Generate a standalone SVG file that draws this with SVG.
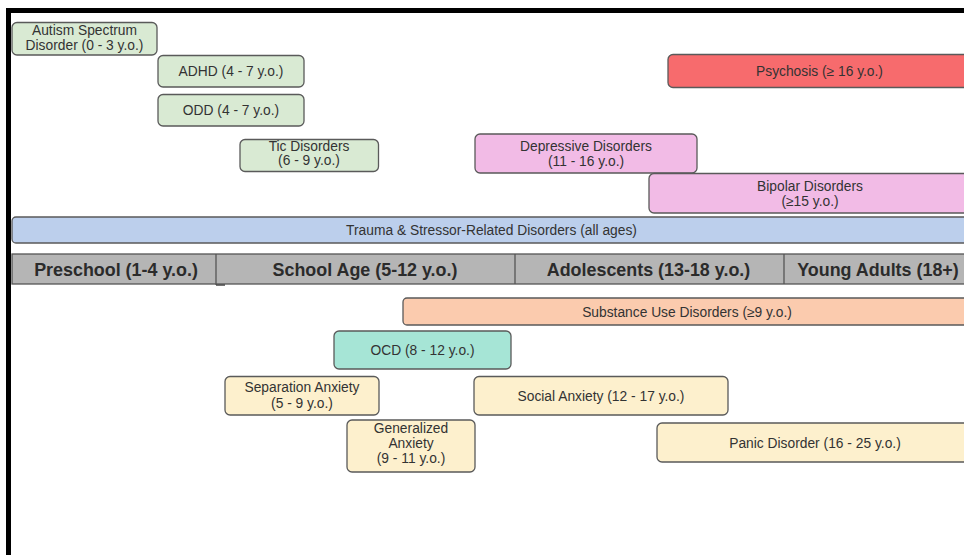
<svg xmlns="http://www.w3.org/2000/svg" width="964" height="555" viewBox="0 0 964 555">
<style>
  .box{stroke:#5a5a5a;stroke-width:1.3}
  .t{font-family:"Liberation Sans",Arial,sans-serif;font-size:13.8px;fill:#333;text-anchor:middle}
  .h{font-family:"Liberation Sans",Arial,sans-serif;font-size:17.9px;font-weight:bold;fill:#2b2b2b;text-anchor:middle}
  .green{fill:#d9ead3}
  .red{fill:#f76b6d}
  .pink{fill:#f2bbe6}
  .blue{fill:#bccfec}
  .orange{fill:#fbcbae}
  .teal{fill:#a6e5d6}
  .yellow{fill:#fdf0cd}
  .hdr{fill:#b5b5b5;stroke:#555;stroke-width:1.3}
</style>
<rect x="0" y="0" width="964" height="555" fill="#ffffff"/>
<g id="frame">
  <rect x="6" y="8" width="958" height="5" fill="#000"/>
  <rect x="6" y="8" width="5" height="547" fill="#000"/>
</g>
<g id="connectors"/>
<g id="autism">
  <rect class="box green" x="12" y="22.5" width="145" height="32.5" rx="5"/>
  <text class="t" x="84.5" y="35">Autism Spectrum</text>
  <text class="t" x="84.5" y="49.5">Disorder (0 - 3 y.o.)</text>
</g>
<g id="adhd">
  <rect class="box green" x="158" y="55.5" width="146" height="31.5" rx="5"/>
  <text class="t" x="231" y="76">ADHD (4 - 7 y.o.)</text>
</g>
<g id="odd">
  <rect class="box green" x="158" y="94.5" width="146" height="31.5" rx="5"/>
  <text class="t" x="231" y="115">ODD (4 - 7 y.o.)</text>
</g>
<g id="tic">
  <rect class="box green" x="240" y="139.5" width="138.5" height="32" rx="5"/>
  <text class="t" x="309" y="150.5">Tic Disorders</text>
  <text class="t" x="309" y="165">(6 - 9 y.o.)</text>
</g>
<g id="psychosis">
  <rect class="box red" x="668" y="54.5" width="305" height="33" rx="5"/>
  <text class="t" x="819.5" y="76">Psychosis (≥ 16 y.o.)</text>
</g>
<g id="depressive">
  <rect class="box pink" x="475" y="134" width="222" height="39" rx="5"/>
  <text class="t" x="586" y="150.5">Depressive Disorders</text>
  <text class="t" x="586" y="165.5">(11 - 16 y.o.)</text>
</g>
<g id="bipolar">
  <rect class="box pink" x="649" y="173.5" width="324" height="39.5" rx="5"/>
  <text class="t" x="810" y="190.5">Bipolar Disorders</text>
  <text class="t" x="810" y="205.5">(≥15 y.o.)</text>
</g>
<g id="trauma">
  <rect class="box blue" x="12" y="217" width="961" height="26" rx="4"/>
  <text class="t" x="491.5" y="235">Trauma &amp; Stressor-Related Disorders (all ages)</text>
</g>
<g id="age-bar">
  <rect class="hdr" x="12" y="254" width="962" height="30"/>
  <line x1="216" y1="254" x2="216" y2="285" stroke="#555" stroke-width="1.3"/>
  <line x1="515" y1="254" x2="515" y2="284" stroke="#555" stroke-width="1.3"/>
  <line x1="784" y1="254" x2="784" y2="284" stroke="#555" stroke-width="1.3"/>
  <line x1="216" y1="285" x2="225" y2="285" stroke="#444" stroke-width="1.5"/>
  <text class="h" x="116" y="275.5">Preschool (1-4 y.o.)</text>
  <text class="h" x="365" y="275.5">School Age (5-12 y.o.)</text>
  <text class="h" x="648.5" y="275.5">Adolescents (13-18 y.o.)</text>
  <text class="h" x="878" y="275.5">Young Adults (18+)</text>
</g>
<g id="substance">
  <rect class="box orange" x="403" y="298" width="570" height="27" rx="4"/>
  <text class="t" x="687" y="316.5">Substance Use Disorders (≥9 y.o.)</text>
</g>
<g id="ocd">
  <rect class="box teal" x="334" y="331" width="177" height="38" rx="5"/>
  <text class="t" x="422.5" y="355">OCD (8 - 12 y.o.)</text>
</g>
<g id="separation">
  <rect class="box yellow" x="225" y="376.5" width="154" height="38.5" rx="5"/>
  <text class="t" x="302" y="391.5">Separation Anxiety</text>
  <text class="t" x="302" y="407.5">(5 - 9 y.o.)</text>
</g>
<g id="social">
  <rect class="box yellow" x="474" y="376.5" width="254" height="38.5" rx="5"/>
  <text class="t" x="601" y="400.5">Social Anxiety (12 - 17 y.o.)</text>
</g>
<g id="generalized">
  <rect class="box yellow" x="347" y="420" width="128" height="52" rx="5"/>
  <text class="t" x="411" y="433">Generalized</text>
  <text class="t" x="411" y="448">Anxiety</text>
  <text class="t" x="411" y="463">(9 - 11 y.o.)</text>
</g>
<g id="panic">
  <rect class="box yellow" x="657" y="423" width="316" height="39" rx="5"/>
  <text class="t" x="815" y="447.5">Panic Disorder (16 - 25 y.o.)</text>
</g>
</svg>
